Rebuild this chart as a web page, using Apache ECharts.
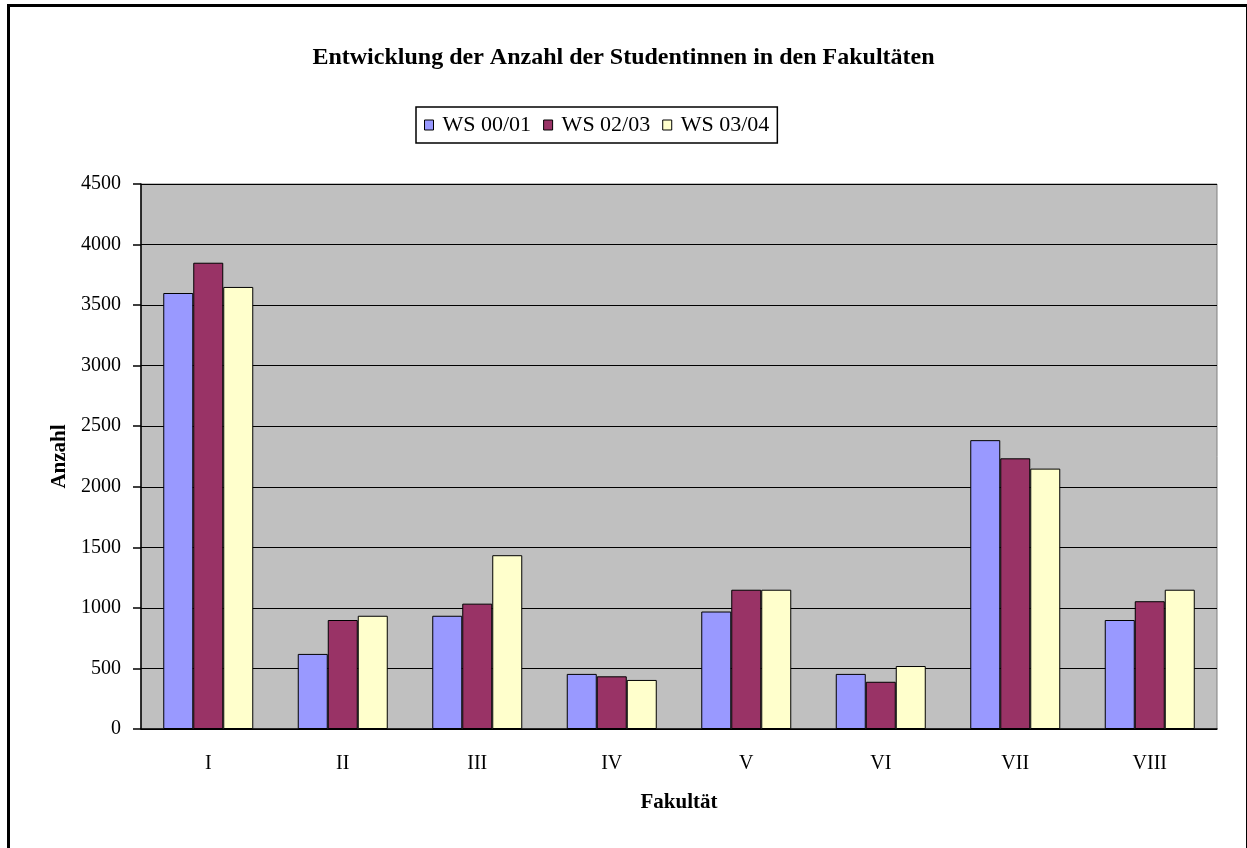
<!DOCTYPE html>
<html>
<head>
<meta charset="utf-8">
<script src="https://cdn.jsdelivr.net/npm/echarts@6/dist/echarts.min.js"></script>
<style>
    html, body { margin: 0; padding: 0; background: #fff; }
    #chart { width: 1247px; height: 848px; }
</style>
</head>
<body>
<div id="chart"></div>
<script>
// Fakultäten
const categories = ['I', 'II', 'III', 'IV', 'V', 'VI', 'VII', 'VIII'];
const seriesNames = ['WS 00/01', 'WS 02/03', 'WS 03/04'];
// Anzahl der Studentinnen je Semester
const ws0001 = [3600, 620, 935, 455, 970, 455, 2385, 900];
const ws0203 = [3850, 900, 1035, 435, 1150, 390, 2235, 1055];
const ws0304 = [3650, 935, 1435, 405, 1150, 520, 2150, 1150];
const yTicks = [0, 500, 1000, 1500, 2000, 2500, 3000, 3500, 4000, 4500];

const colors = ['#9999FF', '#993366', '#FFFFCC'];
const serif = 'Liberation Serif, Times New Roman, serif';

const option = {
    animation: false,
    color: colors,
    textStyle: { fontFamily: serif, color: '#000' },
    title: {
        text: 'Entwicklung der Anzahl der Studentinnen in den Fakultäten',
        left: 'center',
        top: 41,
        textStyle: { fontFamily: serif, fontSize: 24, fontWeight: 'bold', color: '#000' }
    },
    legend: {
        data: seriesNames,
        left: 416,
        top: 107,
        padding: [7, 8, 7, 8],
        itemGap: 12,
        itemWidth: 9,
        itemHeight: 10,
        borderColor: '#000',
        borderWidth: 1.5,
        icon: 'rect',
        itemStyle: { borderColor: '#000', borderWidth: 1 },
        textStyle: { fontFamily: serif, fontSize: 22, color: '#000', padding: [0, 0, 0, 4] }
    },
    grid: {
        left: 141,
        right: 30,
        top: 184,
        bottom: 119,
        show: true,
        backgroundColor: '#C0C0C0',
        borderColor: '#808080',
        borderWidth: 1
    },
    xAxis: {
        type: 'category',
        data: categories,
        name: 'Fakultät',
        nameLocation: 'middle',
        nameGap: 63,
        nameTextStyle: { fontFamily: serif, fontSize: 21, fontWeight: 'bold', color: '#000' },
        axisLine: { lineStyle: { color: '#000', width: 1.5 } },
        axisTick: { length: 8, lineStyle: { color: '#000', width: 1.5 } },
        axisLabel: { fontFamily: serif, fontSize: 20, color: '#000', margin: 25 }
    },
    yAxis: {
        type: 'value',
        min: yTicks[0],
        max: yTicks[yTicks.length - 1],
        interval: 500,
        name: 'Anzahl',
        nameLocation: 'middle',
        nameGap: 62,
        nameTextStyle: { fontFamily: serif, fontSize: 21, fontWeight: 'bold', color: '#000' },
        axisLine: { show: true, lineStyle: { color: '#000', width: 1.5 } },
        axisTick: { show: true, length: 8, lineStyle: { color: '#000', width: 1.5 } },
        axisLabel: { fontFamily: serif, fontSize: 20, color: '#000', margin: 20, formatter: v => String(v) },
        splitLine: { lineStyle: { color: '#000', width: 1 } }
    },
    series: [ws0001, ws0203, ws0304].map((data, i) => ({
        name: seriesNames[i],
        type: 'bar',
        data: data,
        barWidth: 30,
        barGap: '0%',
        itemStyle: { color: colors[i], borderColor: '#000', borderWidth: 1 }
    })),
    graphic: [
        {
            type: 'rect',
            left: 6,
            top: 3,
            shape: { width: 1239, height: 900 },
            style: { fill: 'none', stroke: '#000', lineWidth: 3 },
            silent: true
        }
    ]
};

const chart = echarts.init(document.getElementById('chart'));
chart.setOption(option);
</script>
</body>
</html>
